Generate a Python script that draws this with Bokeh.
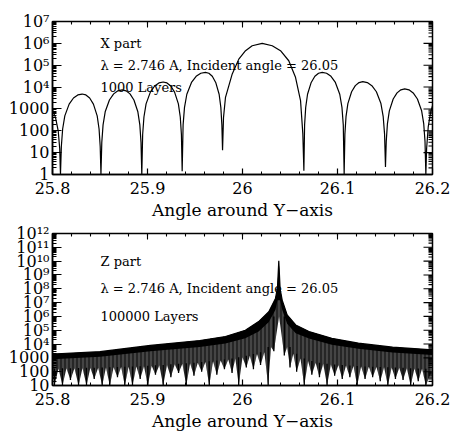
import numpy as np
from bokeh.core.properties import value
from bokeh.embed import file_html
from bokeh.layouts import column
from bokeh.models import FixedTicker
from bokeh.plotting import figure
from bokeh.resources import INLINE

FONT = "DejaVu Serif"

# ---------------- X part, 1000 layers ----------------
# zeros between the interference lobes
x_null_angle = [25.8084, 25.8510, 25.8940, 25.9365, 25.9790, 26.0646, 26.1070, 26.1505, 26.1930]
x_null_value = [1.0, 1.0, 1.0, 1.4, 13.0, 1.5, 1.0, 2.2, 1.0]
# maximum of each lobe (index 4 is the main lobe)
x_peak_angle = [25.8312, 25.8733, 25.9165, 25.9610, 26.0207, 26.0839, 26.1266, 26.1708]
x_peak_value = [4800, 7400, 17000, 47000, 1.0e6, 47000, 17600, 8200]
# side-lobe profile: fraction of the way from zero to maximum, decades below maximum
arch_frac = [0.04, 0.10, 0.20, 0.40, 0.60, 0.80]
arch_drop = [-2.4, -1.6, -1.0, -0.46, -0.18, -0.04]
# main lobe interior
x_main_angle = [25.9800, 25.9821, 25.9892, 25.9961, 26.0032, 26.0102, 26.0207,
                26.0313, 26.0400, 26.0487, 26.0558, 26.0611, 26.0635]
x_main_value = [400, 3400, 4.0e4, 1.9e5, 4.6e5, 7.8e5, 1.0e6,
                7.8e5, 4.6e5, 1.6e5, 2.8e4, 2400, 74]
# partial lobes at the edges of the window
x_left_angle = [25.8000, 25.8032, 25.8060, 25.8076]
x_left_value = [900, 400, 100, 15]
x_right_angle = [26.1938, 26.1955, 26.1980, 26.2000]
x_right_value = [15, 150, 700, 1400]

# ---------------- Z part, 100000 layers ----------------
z_env_angle = [25.800, 25.850, 25.903, 25.955, 25.982, 26.003, 26.017, 26.0277, 26.0347,
               26.0368, 26.0382, 26.0396, 26.0418, 26.047, 26.056, 26.070, 26.094,
               26.122, 26.158, 26.200]
z_env_top = [1900, 2800, 8000, 18000, 35000, 1.0e5, 4.2e5, 2.2e6, 2.0e7,
             1.2e8, 1.07e10, 1.0e8, 1.5e7, 1.3e6, 2.4e5, 8.0e4, 2.6e4,
             1.15e4, 5900, 3800]
z_env_low = [800, 1200, 3000, 6000, 11000, 2.6e4, 8.0e4, 4.0e5, 3.0e6,
             1.5e7, 1.5e7, 1.5e7, 3.0e6, 3.0e5, 6.0e4, 2.5e4, 9000,
             4500, 2400, 1600]
z_dip_angle = [25.8021, 25.8105, 25.8189, 25.8274, 25.8358, 25.8439, 25.8523, 25.8603,
               25.8684, 25.8761, 25.8842, 25.8923, 25.9003, 25.9084, 25.9165, 25.9246,
               25.9327, 25.9408, 25.9489, 25.9570, 25.9650, 25.9730, 25.9810, 25.9890,
               25.9960, 26.0040, 26.0115, 26.0190, 26.0270, 26.0330,
               26.0440, 26.0500, 26.0570, 26.0650, 26.0730, 26.0810, 26.0890, 26.0970,
               26.1050, 26.1130, 26.1207, 26.1290, 26.1370, 26.1450, 26.1530, 26.1610,
               26.1690, 26.1770, 26.1850, 26.1930]
z_dip_value = [10, 10, 25, 10, 10, 30, 10, 10, 40, 10, 10, 30, 10, 60, 10, 40,
               80, 10, 50, 100, 10, 60, 150, 80, 10, 200, 150, 300, 10, 3000,
               1500, 200, 100, 10, 60, 40, 10, 50, 30, 40, 10, 30, 40, 20, 10, 30,
               25, 10, 20, 10]
z_gap_value = [170, 175, 180, 185, 190, 195, 200, 210, 220, 230, 240, 250, 270, 290,
               310, 340, 370, 410, 450, 500, 560, 650, 760, 900, 1100, 1400, 1900,
               2600, 6000,
               1.0e6,
               6000, 2000, 900, 600, 450, 380, 330, 300, 280, 260, 240, 230, 220,
               210, 200, 190, 180, 170, 160]
z_edge_low = [100, 150]

X_MAJOR = [25.8, 25.9, 26.0, 26.1, 26.2]
X_LABELS = ["25.8", "25.9", "26", "26.1", "26.2"]
X_MINOR = [round(25.8 + 0.02 * k, 2) for k in range(21)]


def x_curve():
    ang = list(x_left_angle) + [x_null_angle[0]]
    val = list(x_left_value) + [x_null_value[0]]
    for i in range(len(x_peak_angle)):
        a, b = x_null_angle[i], x_null_angle[i + 1]
        pa, pv = x_peak_angle[i], x_peak_value[i]
        if i == 4:
            ang += x_main_angle
            val += x_main_value
        else:
            for f, d in zip(arch_frac, arch_drop):
                ang.append(a + f * (pa - a))
                val.append(pv * 10 ** d)
            ang.append(pa)
            val.append(pv)
            for f, d in zip(reversed(arch_frac), reversed(arch_drop)):
                ang.append(b - f * (b - pa))
                val.append(pv * 10 ** d)
        ang.append(b)
        val.append(x_null_value[i + 1])
    ang += x_right_angle
    val += x_right_value
    return ang, val


def style(p, y_major, y_labels, frame_w, frame_h):
    y_minor = [m * t for t in y_major for m in range(2, 10)]
    bx = p.below[0]
    ly = p.left[0]
    bx.ticker = FixedTicker(ticks=X_MAJOR, minor_ticks=X_MINOR)
    ly.ticker = FixedTicker(ticks=y_major, minor_ticks=y_minor)
    bx.major_tick_in, bx.minor_tick_in = 6, 3
    ly.major_tick_in, ly.minor_tick_in = 9, 4
    for ax in (bx, ly):
        ax.major_tick_out = 0
        ax.minor_tick_out = 0
        ax.axis_line_width = 1.5
        ax.major_tick_line_width = 1.2
        ax.minor_tick_line_width = 1
        ax.major_label_text_font = FONT
        ax.major_label_text_font_size = "16px"
        ax.major_label_text_color = "black"

    bx.major_label_overrides = dict(zip(X_MAJOR, X_LABELS))
    bx.major_label_standoff = 7
    bx.axis_label = "Angle around Y\u2212axis"
    bx.axis_label_text_font = FONT
    bx.axis_label_text_font_style = "normal"
    bx.axis_label_text_font_size = "17px"
    bx.axis_label_text_color = "black"
    bx.axis_label_standoff = 3

    ly.major_label_overrides = dict(zip(y_major, y_labels))
    ly.major_label_standoff = 3

    # inward ticks along the top and right edges of the frame
    x0, x1 = p.x_range.start, p.x_range.end
    y0, y1 = p.y_range.start, p.y_range.end
    dec_px = frame_h / np.log10(y1 / y0)
    ang_px = (x1 - x0) / frame_w
    tx = X_MAJOR + X_MINOR
    tl = [6] * len(X_MAJOR) + [3] * len(X_MINOR)
    p.segment(x0=tx, x1=tx, y0=[y1 / 10 ** (l / dec_px) for l in tl], y1=[y1] * len(tx),
              line_color="black", line_width=1.1)
    ty = list(y_major) + y_minor
    tl = [9] * len(y_major) + [4] * len(y_minor)
    p.segment(x0=[x1 - l * ang_px for l in tl], x1=[x1] * len(ty), y0=ty, y1=ty,
              line_color="black", line_width=1.1)

    p.xgrid.visible = False
    p.ygrid.visible = False
    p.outline_line_color = "black"
    p.outline_line_width = 1.5
    p.background_fill_color = "white"
    p.border_fill_color = "white"


SUP = str.maketrans("0123456789", "\u2070\u00b9\u00b2\u00b3\u2074\u2075\u2076\u2077\u2078\u2079")


def dec_label(k):
    if k <= 3:
        return str(10 ** k)
    return "10" + str(k).translate(SUP)


# ---------- top panel ----------
p1 = figure(frame_width=380, frame_height=153, x_range=(25.8, 26.2), y_range=(1, 1e7),
            y_axis_type="log", output_backend="svg", toolbar_location=None,
            min_border_left=52, min_border_right=23, min_border_top=21, min_border_bottom=48)
xa, xv = x_curve()
p1.line(xa, xv, line_color="black", line_width=1.2)
p1.text(x=[25.8505] * 3, y=[1e6, 1e5, 1e4],
        text=["X part", "\u03bb = 2.746 A, Incident angle = 26.05", "1000 Layers"],
        text_font=value(FONT), text_font_size="13px", text_baseline="middle",
        text_align="left", text_color="black")
style(p1, [10 ** k for k in range(0, 8)], [dec_label(k) for k in range(0, 8)], 380, 153)

# ---------- bottom panel ----------
p2 = figure(frame_width=380, frame_height=152, x_range=(25.8, 26.2), y_range=(10, 1e12),
            y_axis_type="log", output_backend="svg", toolbar_location=None,
            min_border_left=52, min_border_right=23, min_border_top=11, min_border_bottom=48)

# lower edge of the oscillation: deep minima alternating with the tops of the gaps
low_x = [25.8]
low_y = [z_edge_low[0]]
for i, (a, v) in enumerate(zip(z_dip_angle, z_dip_value)):
    low_x.append(a)
    low_y.append(v)
    if i < len(z_gap_value):
        low_x.append(0.5 * (a + z_dip_angle[i + 1]))
        low_y.append(z_gap_value[i])
low_x.append(26.2)
low_y.append(z_edge_low[1])

poly_x = list(z_env_angle) + low_x[::-1]
poly_y = list(z_env_top) + low_y[::-1]
p2.patch(poly_x, poly_y, fill_color="#262626", line_color=None,
         hatch_pattern="vertical_line", hatch_color="#8a8a8a", hatch_scale=4,
         hatch_weight=1, hatch_alpha=0.6)
p2.varea(x=z_env_angle, y1=z_env_low, y2=z_env_top, fill_color="black")
p2.line(z_env_angle, z_env_top, line_color="black", line_width=1.2)

# the deepest minima are drawn as full lines
seg_top = []
for i in range(len(z_dip_angle)):
    nb = []
    if i > 0:
        nb.append(z_gap_value[i - 1])
    if i < len(z_gap_value):
        nb.append(z_gap_value[i])
    seg_top.append(max(nb))
p2.segment(x0=z_dip_angle, y0=z_dip_value, x1=z_dip_angle, y1=seg_top,
           line_color="black", line_width=1.3)

p2.text(x=[25.8505] * 3, y=[1e10, 1e8, 1e6],
        text=["Z part", "\u03bb = 2.746 A, Incident angle = 26.05", "100000 Layers"],
        text_font=value(FONT), text_font_size="13px", text_baseline="middle",
        text_align="left", text_color="black")
style(p2, [10 ** k for k in range(1, 13)], [dec_label(k) for k in range(1, 13)], 380, 152)

layout = column(p1, p2, spacing=0)
open("out.html", "w").write(file_html(layout, INLINE))
